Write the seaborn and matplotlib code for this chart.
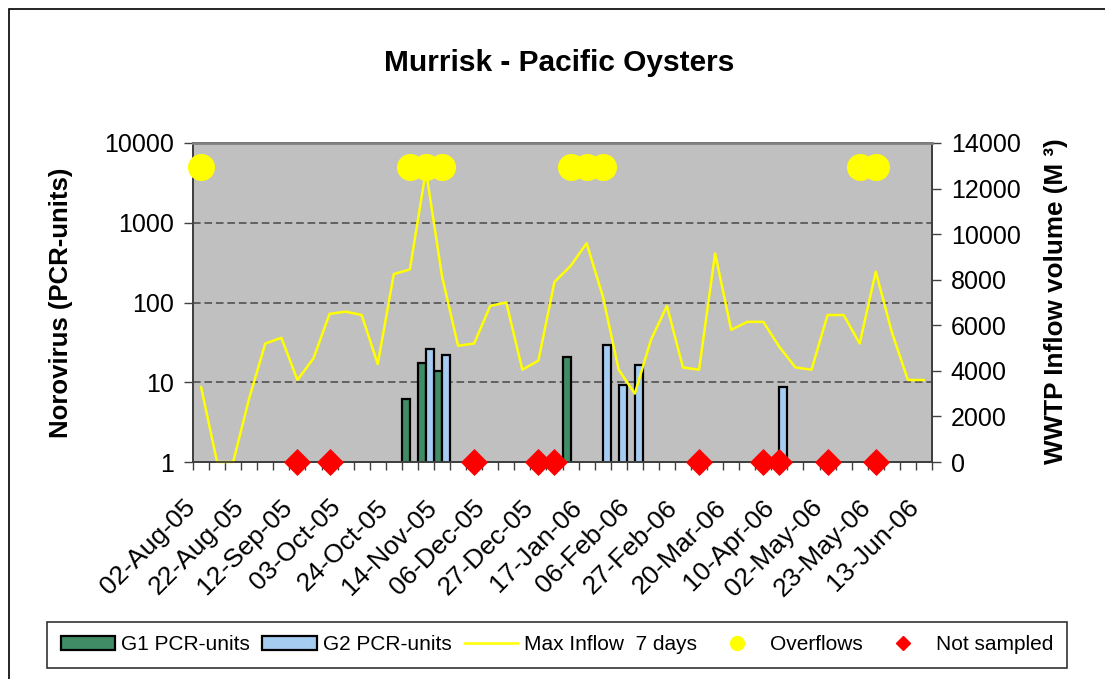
import numpy as np
import pandas as pd
import matplotlib
matplotlib.use("Agg")
import matplotlib.pyplot as plt
import seaborn as sns
from matplotlib.ticker import NullLocator, FixedLocator
from matplotlib.patches import Rectangle
from matplotlib.lines import Line2D
from matplotlib.transforms import ScaledTranslation

# sampling dates (category axis), one label shown every third date
dates = [
    "02-Aug-05", "09-Aug-05", "16-Aug-05", "22-Aug-05", "29-Aug-05", "05-Sep-05",
    "12-Sep-05", "19-Sep-05", "26-Sep-05", "03-Oct-05", "10-Oct-05", "17-Oct-05",
    "24-Oct-05", "31-Oct-05", "07-Nov-05", "14-Nov-05", "21-Nov-05", "28-Nov-05",
    "06-Dec-05", "13-Dec-05", "20-Dec-05", "27-Dec-05", "03-Jan-06", "10-Jan-06",
    "17-Jan-06", "24-Jan-06", "31-Jan-06", "06-Feb-06", "13-Feb-06", "20-Feb-06",
    "27-Feb-06", "06-Mar-06", "13-Mar-06", "20-Mar-06", "27-Mar-06", "03-Apr-06",
    "10-Apr-06", "18-Apr-06", "25-Apr-06", "02-May-06", "09-May-06", "16-May-06",
    "23-May-06", "30-May-06", "06-Jun-06", "13-Jun-06",
]
shown_dates = dates[::3]

# norovirus results (PCR-units)
g1_dates = ["31-Oct-05", "07-Nov-05", "14-Nov-05", "10-Jan-06"]
g1_values = [6.1, 17.5, 14, 21]
g2_dates = ["07-Nov-05", "14-Nov-05", "24-Jan-06", "31-Jan-06", "06-Feb-06", "10-Apr-06"]
g2_values = [26, 22, 29, 9.2, 16.5, 8.6]

# max WWTP inflow over 7 days (M3)
inflow = [3300, 0, 0, 2800, 5200, 5450, 3600, 4550, 6500, 6600, 6450, 4300,
          8250, 8450, 12800, 8150, 5100, 5200, 6850, 7000, 4050, 4450, 7900, 8600,
          9600, 7300, 4050, 3000, 5350, 6850, 4150, 4050, 9150, 5800, 6150, 6150,
          5050, 4150, 4050, 6450, 6450, 5200, 8350, 5700, 3600, 3600]

overflow_dates = ["02-Aug-05", "31-Oct-05", "07-Nov-05", "14-Nov-05", "10-Jan-06",
                  "17-Jan-06", "24-Jan-06", "16-May-06", "23-May-06"]
overflow_level = 5000
not_sampled_dates = ["12-Sep-05", "26-Sep-05", "28-Nov-05", "27-Dec-05", "03-Jan-06",
                     "06-Mar-06", "03-Apr-06", "10-Apr-06", "02-May-06", "23-May-06"]
not_sampled_level = 1

left_ticks = [1, 10, 100, 1000, 10000]
left_labels = ["1", "10", "100", "1000", "10000"]
right_ticks = [0, 2000, 4000, 6000, 8000, 10000, 12000, 14000]

series_names = ["G1 PCR-units", "G2 PCR-units"]
line_name = "Max Inflow  7 days"
marker_names = ["Overflows", "Not sampled"]

bars = pd.DataFrame({
    "date": g1_dates + g2_dates,
    "value": g1_values + g2_values,
    "series": [series_names[0]] * len(g1_dates) + [series_names[1]] * len(g2_dates),
})
pos = np.arange(len(dates))
overflow_pos = [dates.index(d) for d in overflow_dates]
not_sampled_pos = [dates.index(d) for d in not_sampled_dates]

sns.set_theme(style="ticks")
plt.rcParams["font.family"] = ["Liberation Sans", "DejaVu Sans"]
plt.rcParams["text.color"] = "black"
plt.rcParams["axes.labelcolor"] = "black"
plt.rcParams["xtick.color"] = "black"
plt.rcParams["ytick.color"] = "black"

W, H = 1105, 679
fig = plt.figure(figsize=(W / 100, H / 100), dpi=100)
rect = [193 / W, 1 - 462 / H, (932 - 193) / W, (462 - 143) / H]
ax = fig.add_axes(rect)
ax.set_facecolor("#C0C0C0")

sns.barplot(data=bars, x="date", y="value", hue="series", order=dates,
            hue_order=series_names, palette=["#339966", "#99CCFF"], width=1.0,
            dodge=True, edgecolor="black", linewidth=1.6, errorbar=None, ax=ax)
bar_leg = ax.get_legend()
bar_handles = list(bar_leg.legend_handles)
bar_leg.remove()

ax.set_yscale("log")
ax.set_ylim(1, 10000)
ax.yaxis.set_minor_locator(NullLocator())
ax.set_yticks(left_ticks)
ax.set_yticklabels(left_labels)
ax.set_axisbelow(True)
ax.yaxis.grid(True, which="major", linestyle=(0, (5, 2.5)), color="#474747", linewidth=1.1)
ax.xaxis.grid(False)
ax.set_xlabel("")

# secondary axis: inflow
ax2 = ax.twinx()
sns.lineplot(x=pos, y=inflow, ax=ax2, color="#FFFF00", linewidth=1.8, clip_on=False)
if ax2.get_legend():
    ax2.get_legend().remove()
ax2.set_ylim(0, 14000)
ax2.set_yticks(right_ticks)
ax2.set_yticklabels([str(t) for t in right_ticks])

# overlay for the markers so they sit on top of the line
ax3 = fig.add_axes(rect, sharex=ax, sharey=ax)
ax3.set_axis_off()
sns.scatterplot(x=overflow_pos, y=[overflow_level] * len(overflow_pos), ax=ax3,
                color="#FFFF00", s=380, linewidth=0, clip_on=False)
sns.scatterplot(x=not_sampled_pos, y=[not_sampled_level] * len(not_sampled_pos), ax=ax3,
                color="#FF0000", marker="D", s=190, linewidth=0, clip_on=False)
if ax3.get_legend():
    ax3.get_legend().remove()

ax.set_xlim(-0.5, len(dates) - 0.5)
ax.set_ylim(1, 10000)
ax.set_xticks(pos[::3])
ax.set_xticklabels(shown_dates, rotation=45, ha="right", va="center",
                   rotation_mode="anchor", fontsize=19)
ax.xaxis.set_minor_locator(FixedLocator(np.arange(-0.5, len(dates), 1)))
ax.tick_params(axis="x", which="major", length=0, pad=30)
ax.tick_params(axis="x", which="minor", length=6, width=1, color="#404040")
ax.tick_params(axis="y", which="major", length=6.5, width=1, color="#404040",
               labelsize=18, pad=7)
ax2.tick_params(axis="y", which="major", length=6.5, width=1, color="#404040",
                labelsize=18, pad=7)
# nudge the date labels a little left, as in the original
shift = ScaledTranslation(-9 / 100, 0, fig.dpi_scale_trans)
for lab in ax.get_xticklabels():
    lab.set_transform(lab.get_transform() + shift)

for a in (ax, ax2):
    for sp in a.spines.values():
        sp.set_color("#404040")
        sp.set_linewidth(1.3)
ax2.spines["top"].set_color("#808080")
ax2.spines["top"].set_linewidth(2)

ax.set_ylabel("Norovirus (PCR-units)", fontsize=18.5, fontweight="bold")
ax.yaxis.set_label_coords(-0.162, 0.5)
ax2.set_ylabel("WWTP Inflow volume (M \u00b3)", fontsize=18.8, fontweight="bold")
ax2.yaxis.set_label_coords(1.151, 0.505)

fig.text(559 / W, 1 - 63 / H, "Murrisk - Pacific Oysters", ha="center", va="center",
         fontsize=21.5, fontweight="bold")

# legend: markers drawn smaller than on the chart
legend_markers = [
    Line2D([], [], linestyle="none", marker="o", markersize=10, color="#FFFF00"),
    Line2D([], [], linestyle="none", marker="D", markersize=7, color="#FF0000"),
]
handles = bar_handles + [ax2.lines[0]] + legend_markers
labels = series_names + [line_name] + marker_names
leg = fig.legend(handles, labels, ncol=5, loc="center", bbox_to_anchor=(557 / W, 1 - 645 / H),
                 frameon=True, fancybox=False, edgecolor="black", fontsize=15,
                 handlelength=2.6, handleheight=0.65, handletextpad=0.3,
                 columnspacing=0.6, borderpad=0.65)
leg.get_frame().set_linewidth(1.2)

# outer chart border
fig.add_artist(Rectangle((8.5 / W, -0.05), 1.0, 1.05 - 9 / H, transform=fig.transFigure,
                         fill=False, edgecolor="black", linewidth=1.2))

fig.savefig("out.png", dpi=100)
